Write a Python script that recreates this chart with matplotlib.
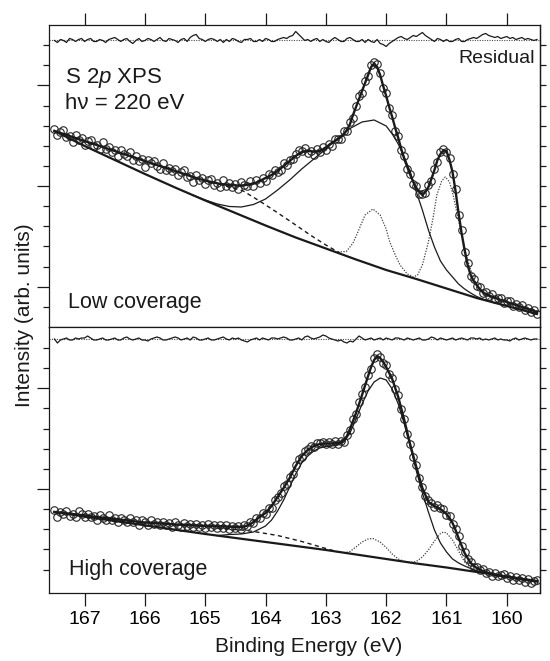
import numpy as np
import matplotlib
matplotlib.use("Agg")
import matplotlib.pyplot as plt

plt.rcParams["font.family"] = ["Liberation Sans", "DejaVu Sans"]
plt.rcParams["mathtext.fontset"] = "custom"
plt.rcParams["mathtext.rm"] = "Liberation Sans"
plt.rcParams["mathtext.it"] = "Liberation Sans:italic"

# binding energy grid of the measured spectra (eV), 0.05 eV steps
energy = np.round(np.arange(167.50, 159.499, -0.05), 2)

# ---- low coverage (upper panel), arb. units ----
low_data = [
    198, 192, 195, 197, 190, 191, 185, 192, 187, 189,
    182, 186, 187, 181, 182, 178, 185, 178, 180, 175,
    177, 171, 177, 173, 171, 175, 167, 171, 166, 168,
    160, 167, 164, 166, 161, 158, 164, 157, 159, 156,
    158, 152, 155, 157, 150, 151, 145, 152, 147, 149,
    142.5, 146.7, 148, 142.2, 143.5, 140, 146.6, 141.3, 144, 139.8,
    142.6, 137.5, 144.5, 141.8, 141.3, 145.8, 140.5, 146.5, 144, 148.5,
    146, 152.5, 152, 157, 155, 156.5, 164, 161.5, 167, 167.5,
    173, 177, 176, 178.7, 174, 175.8, 171.5, 177.7, 175, 179.5,
    177, 183, 181, 188, 188, 188, 196, 196, 205, 209,
    221, 231, 234, 246, 251, 262, 264.5, 263, 254, 239,
    234, 219, 212, 196, 191, 177, 171, 158, 153, 143,
    141, 133, 133, 134, 142, 146, 158, 165, 175, 177.5,
    175, 169, 153, 138, 112, 97, 75, 64, 51, 48,
    41, 40, 34, 35, 30.5, 32.5, 27.5, 29, 29, 24,
    26, 26, 21, 23, 20, 22, 17, 19, 15, 17,
    13,
]
low_fit = [
    196, 195, 194, 193, 192, 191, 190, 189, 188, 187,
    186, 185, 184, 183, 182, 181, 180, 179, 178, 177,
    176, 175, 174, 173, 172, 171, 170, 169, 168, 167,
    166, 165, 164, 163, 162, 161, 160, 159, 158, 157,
    156, 155, 154, 153, 152, 151, 150, 149, 148, 147.2,
    146.5, 145.7, 145, 144.2, 143.5, 143, 142.6, 142.3, 142, 141.8,
    141.6, 141.5, 141.5, 141.8, 142.3, 142.8, 143.5, 144.5, 146, 147.5,
    149, 150.5, 152, 154, 156, 158.5, 161, 163.5, 166, 168.5,
    171, 173, 175, 175.7, 176, 175.8, 175.5, 175.7, 176, 177.5,
    179, 182, 184, 186, 188, 190, 193, 197, 203, 212,
    220, 228, 236, 244, 252, 260, 263.5, 260, 252, 241,
    231, 220, 210, 199, 189, 178, 168, 160, 152, 145,
    139, 135, 132, 135, 140, 148, 157, 167, 173, 176.5,
    176, 167, 155, 136, 114, 94, 77, 62, 52, 46,
    42, 38, 35, 33, 31.5, 30.5, 29.5, 28, 27, 26,
    25, 24, 23, 22, 21, 20, 19, 18, 17, 16,
    15,
]
low_resid = [
    0, -2, 1, 0, -2, 2, 1, -1, 1, 2,
    -1, 1, 2, -1, -1, 1, 0, -2, 1, 2,
    3, 1, -1, 1, 2, -1, -3, 0, 2, -1,
    0, 2, 1, -1, 1, 3, 0, -1, 2, 1,
    0, -2, 1, 2, -1, 3, 5, 6, 2, 1,
    -1, 1, 2, 1, -1, 1, -2, 1, -1, 2,
    1, -1, -2, 1, 1, 2, -1, -1, 1, -1,
    2, 1, -1, -1, 1, 2, 3, 2, 4, 5,
    9, 6, 3, 0, 1, -1, 1, 2, -1, 1,
    -1, -2, 1, 3, 1, -1, -1, 2, 3, 1,
    -1, -1, 1, -2, 1, -1, -2, 1, -3, -4,
    -6, -3, -1, 1, 3, 4, 2, 1, 3, 5,
    4, 6, 8, 5, 3, 1, -1, 2, 1, -1,
    1, -1, -1, 1, 2, -1, -1, 1, 2, 3,
    2, 4, 6, 7, 5, 4, 3, 4, 2, 3,
    4, 2, 3, 1, 2, 3, 1, 2, 1, 0,
    1,
]
low_bg_e = [167.5, 167.0, 166.5, 166.0, 165.5, 165.0, 164.5, 164.0, 163.5,
            163.0, 162.5, 162.0, 161.5, 161.0, 160.5, 160.0, 159.5]
low_bg = [196, 181, 167, 153, 139.5, 126.5, 114, 101.5, 89.5,
          78.5, 67.5, 57, 48, 38.5, 29, 21, 13]
low_broad_e = [165.2, 165.0, 164.8, 164.6, 164.4, 164.2, 164.0, 163.8, 163.6,
               163.4, 163.2, 163.0, 162.8, 162.6, 162.4, 162.2, 162.0, 161.9,
               161.8, 161.7, 161.6, 161.5, 161.4, 161.3, 161.2, 161.1, 161.0,
               160.9, 160.8, 160.7, 160.6, 160.5, 160.4, 160.3]
low_broad = [131.7, 127, 123, 120.5, 120, 122.5, 128, 137, 147,
             158, 168, 178, 189, 198.5, 205, 207, 201, 193,
             183, 170, 155, 135, 117, 97, 80, 66, 57,
             50, 43, 38, 34, 30.5, 28, 26]
low_dash_e = [164.9, 164.6, 164.37, 164.1, 163.82, 163.5, 163.26, 163.0, 162.77]
low_dash = [145, 140, 136, 126, 115, 102, 92, 82, 74]
low_dbl_e = [162.8, 162.66, 162.55, 162.49, 162.42, 162.35, 162.22, 162.1, 162.0,
             161.94, 161.85, 161.77, 161.65, 161.55, 161.48, 161.4, 161.3, 161.22,
             161.16, 161.08, 161.02, 160.95, 160.89, 160.82, 160.75, 160.68,
             160.61, 160.52, 160.44, 160.35, 160.25]
low_dbl = [75, 75.5, 84, 92, 102, 112, 118, 112, 98,
           85, 72, 62, 53, 50, 52, 62, 85, 110,
           132, 146, 150, 145, 132, 112, 92, 74,
           59, 45, 38, 31, 25.5]

# ---- high coverage (lower panel), arb. units ----
high_data = [
    83, 75.6, 81.3, 79, 81.6, 77.3, 78.9, 75.6, 82.2, 78.9,
    75.5, 79.1, 75.8, 77.4, 73.1, 77.7, 75.4, 73, 77.7, 73.3,
    75, 70.6, 75.3, 72.9, 70.6, 75.2, 70.9, 72.5, 68.2, 72.8,
    70.5, 68.3, 73.1, 68.9, 70.7, 67.5, 71.3, 68.1, 69.9, 65.7,
    70.5, 68.3, 66.2, 70, 66.9, 68.7, 65.6, 69.4, 66.3, 68.1,
    65, 68.9, 65.8, 67.7, 64.6, 67.5, 65.4, 68.3, 64.2, 67.1,
    65, 67, 64, 67.5, 66.5, 71, 70, 74.5, 75, 80,
    79, 84.5, 85, 92.5, 96, 99.5, 107, 109, 116, 119,
    128, 134, 136, 142, 144, 147, 146, 150, 150, 151.3,
    148.5, 150.5, 148.5, 151.7, 149, 152, 151, 158, 163, 174,
    179, 191, 199, 205.5, 218, 224, 235, 239, 236, 230,
    228, 219, 215, 204, 198, 183.5, 174, 158.5, 149, 136,
    128, 114.5, 106, 97, 93, 90, 86, 87.5, 85, 83.5,
    78, 77, 69, 64, 57, 46.5, 41, 34, 31, 25.5,
    26, 22.5, 24, 20, 21, 17, 20, 16.5, 18, 18.5,
    15, 16.5, 13, 15.5, 13, 14.6, 11.2, 13.8, 10.4, 12,
    12.5,
]
high_fit = [
    81, 80.6, 80.3, 80, 79.6, 79.3, 78.9, 78.6, 78.2, 77.9,
    77.5, 77.1, 76.8, 76.4, 76.1, 75.7, 75.4, 75, 74.7, 74.3,
    74, 73.6, 73.3, 72.9, 72.6, 72.2, 71.9, 71.5, 71.2, 70.8,
    70.5, 70.3, 70.1, 69.9, 69.7, 69.5, 69.3, 69.1, 68.9, 68.7,
    68.5, 68.3, 68.2, 68, 67.9, 67.7, 67.6, 67.4, 67.3, 67.1,
    67, 66.9, 66.8, 66.7, 66.6, 66.5, 66.4, 66.3, 66.2, 66.1,
    66, 66, 66, 66.5, 67.5, 69, 71, 73.5, 76, 78,
    80, 83.5, 87, 91.5, 96, 100.5, 105, 110, 115, 121,
    127, 132, 137, 140, 143, 145, 147, 148, 149, 149.3,
    149.5, 149.5, 149.5, 149.7, 150, 151, 153, 157, 164, 172,
    180, 189, 198, 207.5, 217, 226, 233, 237, 235, 231,
    226, 220, 214, 205, 196, 184.5, 173, 160.5, 148, 137,
    126, 115.5, 105, 98, 91, 89, 87, 85.5, 84, 81.5,
    79, 75, 70, 63, 55, 47.5, 40, 35, 30, 27.5,
    25, 23.5, 22, 21, 20, 19, 18, 17.5, 17, 16.5,
    16, 15.5, 15, 14.5, 14, 13.6, 13.2, 12.8, 12.4, 12,
    11.5,
]
high_resid = [
    0, -4, -1, 0, 1, -1, -1, 1, 0, 1,
    1, 3, 1, -1, -1, 0, 1, -1, -1, 0,
    1, -1, -1, 1, 2, 0, -1, 0, 1, -1,
    -1, -2, 0, 1, 2, 1, -1, -1, 0, 1,
    2, 1, -1, 0, 1, -1, 2, 1, -1, -1,
    0, 1, -1, -1, 0, 1, 2, 0, -1, 1,
    0, 1, -1, -2, -3, -1, 0, 1, -1, 1,
    0, -1, 1, 1, 0, 1, 2, 1, -1, -1,
    0, 1, -1, 2, 3, 1, 0, 1, 2, 4,
    3, 1, 0, -1, -2, -1, -3, -4, -2, -3,
    0, 3, 1, -1, 0, 1, -1, 0, 1, -1,
    1, 0, -1, 1, 1, 0, -1, 1, 0, -1,
    0, 1, -1, -1, 0, 2, 1, -1, 1, 0,
    -1, 0, 1, -1, 0, 1, 0, -1, 1, 1,
    0, 1, -1, 0, -1, 0, 1, -1, 0, -1,
    -1, -2, 0, 1, -1, 0, 1, 0, -1, 0,
    0,
]
high_bg_e = low_bg_e
high_bg = [81, 76.5, 72, 67.7, 63.3, 59, 55, 51, 47,
           43, 38.5, 34, 29.5, 25.5, 21, 16.5, 12]
high_broad_e = [164.8, 164.6, 164.4, 164.2, 164.0, 163.9, 163.8, 163.7, 163.6,
                163.5, 163.4, 163.3, 163.2, 163.1, 163.0, 162.9, 162.8, 162.7,
                162.6, 162.5, 162.4, 162.3, 162.2, 162.1, 162.0, 161.9, 161.8,
                161.7, 161.6, 161.5, 161.4, 161.3, 161.2, 161.1, 161.0, 160.9,
                160.8, 160.7, 160.6, 160.5, 160.4]
high_broad = [57.4, 58.5, 59, 61, 67, 73, 82, 93, 106,
              119, 130, 137, 142, 145, 146.5, 147, 148, 151,
              160, 174, 189, 202, 211, 215, 213, 204, 189,
              169, 146, 122, 100, 81, 63, 50, 41, 34,
              30, 27, 24.5, 22, 20.3]
high_dash_e = [164.8, 164.6, 164.4, 164.2, 164.0, 163.8, 163.6, 163.4, 163.2,
               163.0, 162.8]
high_dash = [65, 64, 63, 61.5, 59.5, 57.5, 54.5, 51.5, 48, 44.5, 41]
high_dbl_e = [162.7, 162.6, 162.5, 162.4, 162.3, 162.22, 162.1, 162.0, 161.9,
              161.8, 161.7, 161.6, 161.5, 161.4, 161.3, 161.2, 161.1, 161.05,
              161.0, 160.9, 160.8, 160.7, 160.6, 160.5, 160.4]
high_dbl = [40, 41.5, 46, 51, 54, 54.5, 51, 45.5, 39,
            34, 31.5, 30.5, 31.5, 36, 43, 52, 59.5, 61,
            60, 53, 42, 31, 25, 22, 20.3]

panels = [
    dict(data=low_data, fit=low_fit, resid=low_resid, res0=286.5,
         bg=(low_bg_e, low_bg), broad=(low_broad_e, low_broad),
         dash=(low_dash_e, low_dash), dbl=(low_dbl_e, low_dbl)),
    dict(data=high_data, fit=high_fit, resid=high_resid, res0=254.0,
         bg=(high_bg_e, high_bg), broad=(high_broad_e, high_broad),
         dash=(high_dash_e, high_dash), dbl=(high_dbl_e, high_dbl)),
]

ink = "#1a1a1a"
fig = plt.figure(figsize=(5.5, 6.61), dpi=100)
ax_low = fig.add_axes([0.0891, 0.5053, 0.8927, 0.4569])
ax_high = fig.add_axes([0.0891, 0.1029, 0.8927, 0.4024])

tick_step = 20.13
setups = [
    (ax_low, panels[0], 302, 40.3, range(-1, 13)),
    (ax_high, panels[1], 266, 104.0, range(-4, 8)),
]
for ax, p, ytop, y0, mrange in setups:
    ax.plot(energy, p["data"], "o", mfc="none", mec="0.15", ms=5.4, mew=0.8,
            zorder=2)
    ax.plot(*p["dbl"], ls=(0, (1, 1.2)), color="0.25", lw=0.9, zorder=3)
    ax.plot(*p["dash"], ls=(0, (3, 2.5)), color=ink, lw=1.0, zorder=3)
    ax.plot(*p["broad"], color=ink, lw=0.9, zorder=3)
    ax.plot(*p["bg"], color=ink, lw=1.6, zorder=3)
    ax.plot(energy, p["fit"], color=ink, lw=1.7, zorder=4)
    ax.axhline(p["res0"], ls=(0, (1, 1.2)), color="0.3", lw=0.8)
    ax.plot(energy, p["res0"] + np.asarray(p["resid"]), color=ink, lw=0.9)

    ax.set_xlim(167.59, 159.45)
    ax.set_ylim(0, ytop)
    major = [y0 + tick_step * m for m in mrange if m % 5 == 0]
    minor = [y0 + tick_step * m for m in mrange]
    ax.set_yticks(major)
    ax.set_yticks(minor, minor=True)
    ax.tick_params(axis="y", which="both", direction="out", labelleft=False,
                   color=ink)
    ax.tick_params(axis="y", which="major", length=8.5, width=0.9)
    ax.tick_params(axis="y", which="minor", length=4.3, width=0.9)
    right = ax.secondary_yaxis("right")
    right.set_yticks(minor)
    right.tick_params(length=4.3, width=0.9, direction="out", labelright=False,
                      color=ink)
    for s in right.spines.values():
        s.set_linewidth(0.9)
    for s in ax.spines.values():
        s.set_linewidth(0.9)
        s.set_color(ink)
    ax.set_xticks([167, 166, 165, 164, 163, 162, 161, 160])

ax_low.tick_params(axis="x", direction="out", length=8.5, width=0.9, top=True,
                   bottom=False, labelbottom=False, color=ink)
ax_high.tick_params(axis="x", direction="out", length=9, width=0.9,
                    labelsize=14, pad=4, color=ink)
ax_high.set_xticklabels(["167", "166", "165", "164", "163", "162", "161", "160"])

fig.text(309 / 550, 1 - 652 / 661, "Binding Energy (eV)", fontsize=15,
         ha="center", va="baseline", color=ink)
fig.text(24 / 550, 1 - 315 / 661, "Intensity (arb. units)", fontsize=15,
         ha="center", va="center", rotation=90, color=ink)
fig.text(65 / 550, 1 - 83 / 661, "S 2$\\it{p}$ XPS", fontsize=16,
         va="baseline", color=ink)
fig.text(65 / 550, 1 - 109 / 661, "h\u03bd = 220 eV", fontsize=16,
         va="baseline", color=ink)
fig.text(535 / 550, 1 - 63 / 661, "Residual", fontsize=14, ha="right",
         va="baseline", color=ink)
fig.text(68 / 550, 1 - 308 / 661, "Low coverage", fontsize=15.5,
         va="baseline", color=ink)
fig.text(69 / 550, 1 - 575 / 661, "High coverage", fontsize=15.5,
         va="baseline", color=ink)

fig.savefig("out.png", dpi=100)
